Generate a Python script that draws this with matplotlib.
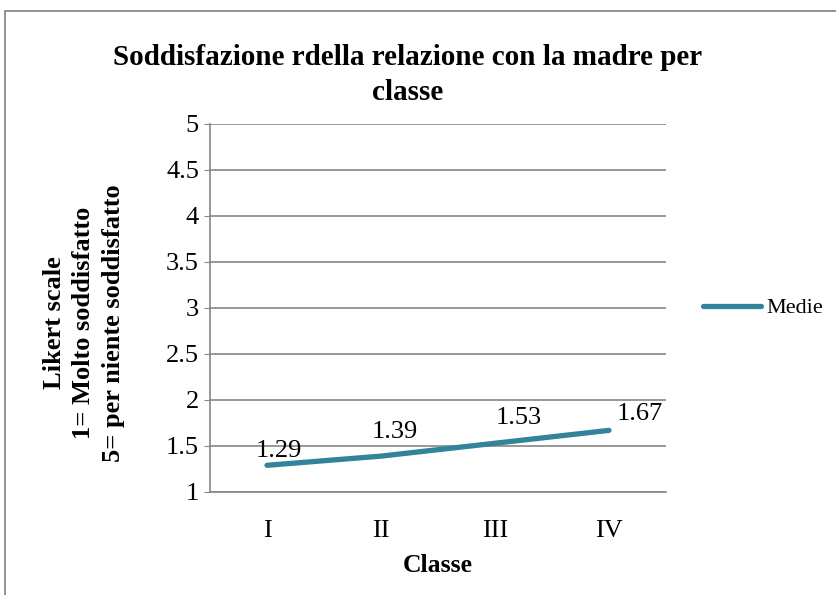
import matplotlib
matplotlib.use("Agg")
import matplotlib.pyplot as plt
from matplotlib.patches import Rectangle

categories = ["I", "II", "III", "IV"]
medie = [1.29, 1.39, 1.53, 1.67]
yticks = [1, 1.5, 2, 2.5, 3, 3.5, 4, 4.5, 5]
ytick_labels = ["1", "1.5", "2", "2.5", "3", "3.5", "4", "4.5", "5"]

plt.rcParams['font.family'] = ['Liberation Serif', 'DejaVu Serif']

W, H = 837, 595
fig = plt.figure(figsize=(W/100, H/100), dpi=100)
fig.patches.append(Rectangle((5/W, -0.1), 1.5, 1.1 - 11/H, transform=fig.transFigure,
                             fill=False, edgecolor='#808080', linewidth=1.2))

ax = fig.add_axes([210/W, 1 - 492/H, (666-210)/W, (492-124)/H])
x = list(range(len(categories)))
color = '#31849B'
ax.plot(x, medie, color=color, linewidth=3.8, solid_capstyle='round', label='Medie')
label_offsets = [(8.6, 10), (10, 17.3), (17.3, 18), (22.3, 11.5)]  # points, style only
for xi, v, off in zip(x, medie, label_offsets):
    ax.annotate(f"{v:.2f}", (xi, v), xytext=off, textcoords='offset points',
                ha='center', va='center', fontsize=19)
ax.set_xlim(-0.5, len(categories) - 0.5)
ax.set_ylim(1, 5)
ax.set_yticks(yticks)
ax.set_yticklabels(ytick_labels, fontsize=19)
ax.set_xticks(x)
ax.set_xticklabels(categories, fontsize=19)
ax.tick_params(axis='x', length=0, pad=20)
ax.tick_params(axis='y', length=4, color='#868686', pad=4)
ax.grid(axis='y', color='#868686', linewidth=1.2)
ax.set_axisbelow(True)
for s in ['top', 'right']:
    ax.spines[s].set_visible(False)
for s in ['left', 'bottom']:
    ax.spines[s].set_color('#868686')
    ax.spines[s].set_linewidth(1.2)

ax.set_xlabel("Classe", fontsize=18.5, fontweight='bold', labelpad=9)

fig.text(84/W, 1 - 323/H, "Likert scale\n1= Molto soddisfatto\n5= per niente soddisfatto",
         rotation=90, ha='center', va='center', multialignment='center',
         fontsize=19, fontweight='bold', linespacing=1.38)

fig.text(408/W, 1 - 75/H, "Soddisfazione rdella relazione con la madre per\nclasse",
         ha='center', va='center', fontsize=21, fontweight='bold', linespacing=1.4)

leg = fig.legend(loc='center left', bbox_to_anchor=(703/W, 1 - 308/H), frameon=False,
                 fontsize=16, handlelength=2.6, handletextpad=0.25,
                 borderpad=0, borderaxespad=0)

fig.savefig("out.png", dpi=100)
